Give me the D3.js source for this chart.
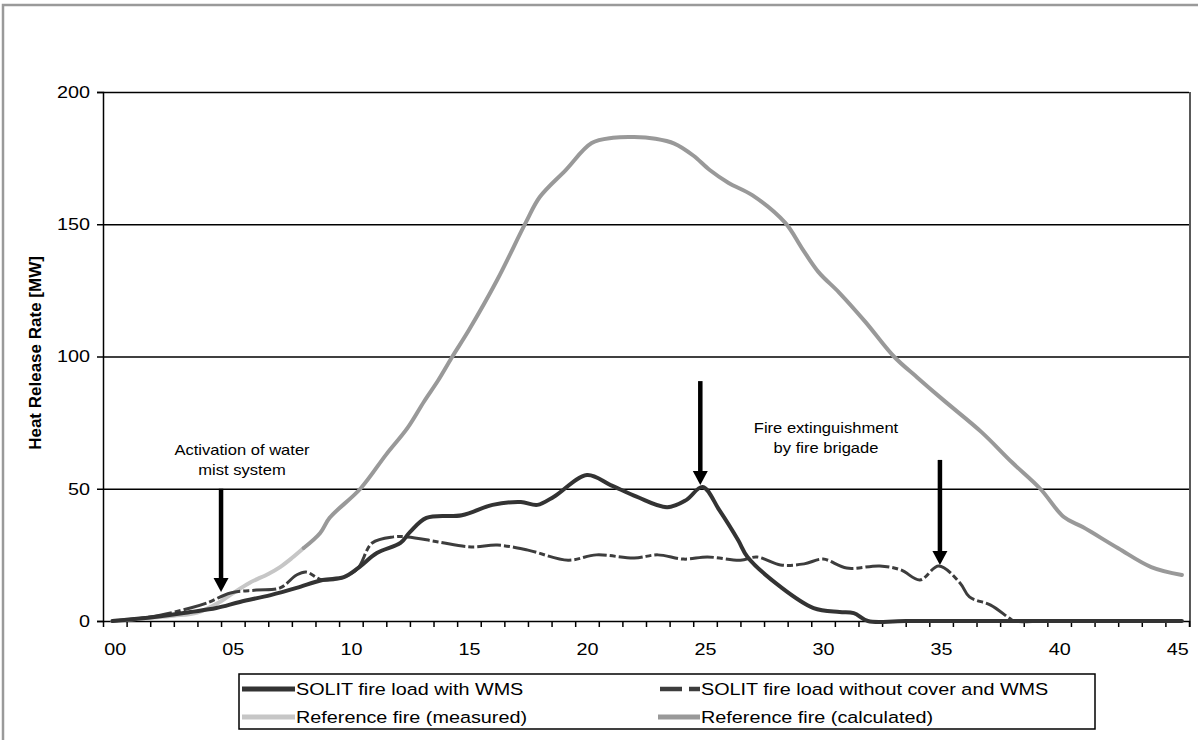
<!DOCTYPE html>
<html>
<head>
<meta charset="utf-8">
<script src="https://cdn.jsdelivr.net/npm/d3@7"></script>
<style>
  html, body { margin: 0; padding: 0; background: #fff; }
  svg { display: block; }
</style>
</head>
<body>
<svg id="chart" width="1198" height="740"></svg>
<script>
// ---- data (time in minutes, heat release rate in MW) ----
const xTickLabels = ["00","05","10","15","20","25","30","35","40","45"];
const yTicks = [0, 50, 100, 150, 200];

const wmsT = [0.4, 2, 3.7, 4.8, 5.8, 7.1, 8.2, 9.3, 10.2, 10.8, 11.6, 12.6, 13, 13.7, 15.2, 16.5, 17.7, 18.4, 19.1, 20.5, 21.5, 22.6, 23.9, 24.7, 25.4, 26.1, 26.9, 27.3, 28.7, 30.1, 31.2, 31.8, 32.4, 34, 45.7];
const wmsV = [0, 1.3, 3.4, 4.9, 7.2, 9.8, 12.5, 15.5, 16.6, 20, 25.7, 29.5, 33.6, 39, 40, 43.9, 45, 43.9, 47, 55.2, 51.4, 47, 43, 45.7, 50.7, 42, 30.6, 24.2, 12.9, 4.9, 3.4, 3, 0, 0, 0];

const noCoverT = [0.4, 2, 3.7, 4.4, 5.4, 6.5, 7.5, 8.2, 8.6, 9.3, 10.2, 10.8, 11.4, 12.3, 12.9, 14.2, 15.6, 16.7, 18, 19.7, 20.9, 22.5, 23.5, 24.6, 25.6, 27, 27.7, 28.7, 29.7, 30.5, 31.5, 32.9, 33.8, 34.6, 35.4, 36.3, 36.7, 37.6, 38.4, 38.6, 40, 45.7];
const noCoverV = [0, 1.5, 4.9, 6.8, 10.6, 11.7, 12.5, 17.4, 18.5, 15.5, 16.6, 20, 29.5, 31.8, 31.8, 29.9, 28, 28.7, 26.8, 23, 25, 23.8, 25, 23.4, 24.2, 23, 24.2, 21.2, 21.6, 23.4, 20, 20.8, 19.3, 15.5, 20.8, 14.4, 9.1, 6, 1, 0, 0, 0];

const measuredT = [0.4, 2, 3, 4, 5, 5.5, 6.2, 7, 7.5, 8, 8.5];
const measuredV = [0, 1.2, 2, 3.2, 7.5, 10.5, 14.4, 17.8, 20.4, 23.8, 27.6];

const calcT = [8.5, 9.2, 9.6, 10.9, 12, 12.9, 13.6, 14.2, 14.8, 15.5, 16.7, 17.9, 18.5, 19.6, 20.7, 21.6, 22.5, 23.4, 24.2, 25.0, 25.7, 26.5, 27.5, 28.9, 29.6, 30.3, 31.2, 32.3, 33.5, 34.5, 35.6, 37.2, 38.5, 39.7, 40.7, 41.5, 43, 44.4, 45.7];
const calcV = [27.6, 33.3, 39, 50, 63, 73, 83, 91, 100, 110, 129, 150.5, 160.3, 170.5, 180.7, 182.7, 183, 182.3, 180.5, 176, 170.5, 165.6, 161, 150.5, 141, 132, 124, 113, 100, 92, 83.5, 71.5, 60, 50, 39.3, 35.5, 27.5, 20.4, 17.4];

// annotation arrows: [time, from value, to value]
const arrowT = [5.0, 25.3, 35.45];
const arrowFrom = [50, 90.7, 60.9];
const arrowTo = [11, 51.4, 21.2];

const legendLabels = ["SOLIT fire load with WMS", "SOLIT fire load without cover and WMS", "Reference fire (measured)", "Reference fire (calculated)"];

// ---- chart ----
const svg = d3.select("#chart");
const L = 103, R = 1189, T = 92, B = 621;
const x = d3.scaleLinear().domain([0, 46]).range([L, R]);
const y = d3.scaleLinear().domain([0, 200]).range([B, T]);
const SX = 1.2; // horizontal stretch of the source lettering

// outer frame
svg.append("rect").attr("x", 3).attr("y", 5).attr("width", 1250).attr("height", 800)
  .attr("fill", "none").attr("stroke", "#9a9a9a").attr("stroke-width", 2.5);

// gridlines
svg.append("g").attr("transform", `translate(${L},0)`)
  .call(d3.axisLeft(y).tickValues([50, 100, 150, 200]).tickSize(-(R - L)).tickFormat(""))
  .call(g => g.select(".domain").remove())
  .call(g => g.selectAll("line").attr("stroke", "#000").attr("stroke-width", 1.3));

// right border
svg.append("line").attr("x1", R + 1).attr("x2", R + 1).attr("y1", T).attr("y2", B + 6)
  .attr("stroke", "#000").attr("stroke-width", 1.3);

const fontMain = "'Liberation Sans', Arial, sans-serif";

// y axis
const yAxis = svg.append("g").attr("transform", `translate(${L},0)`)
  .call(d3.axisLeft(y).tickValues(yTicks).tickSize(6).tickPadding(6));
yAxis.selectAll("line, path").attr("stroke", "#000").attr("stroke-width", 1.5);
yAxis.selectAll("text").attr("font-family", fontMain).attr("font-size", 16.5).attr("fill", "#000")
  .attr("x", null).attr("transform", `translate(-13,0) scale(${SX},1)`);

// x axis ticks
const xAxis = svg.append("g").attr("transform", `translate(0,${B})`)
  .call(d3.axisBottom(x).tickValues(d3.range(0, 47)).tickSize(6).tickFormat(""));
xAxis.selectAll("line, path").attr("stroke", "#000").attr("stroke-width", 1.5);
xAxis.select(".domain").attr("d", `M${L},0.5H${R + 1}`);

// x labels centered in each category
const xLab = svg.append("g").attr("transform", `translate(0,${B})`)
  .call(d3.axisBottom(x).tickValues(xTickLabels.map(d => +d + 0.5)).tickSize(0).tickPadding(22)
    .tickFormat((d, i) => xTickLabels[i]));
xLab.select(".domain").remove();
xLab.selectAll("text").attr("font-family", fontMain).attr("font-size", 16.5).attr("fill", "#000")
  .attr("transform", `scale(${SX},1)`).attr("x", 0);

// y title
svg.append("text").attr("transform", "translate(41,353) rotate(-90)")
  .attr("text-anchor", "middle").attr("font-family", fontMain).attr("font-weight", "bold")
  .attr("font-size", 17).text("Heat Release Rate [MW]");

// series
const line = d3.line().x(d => x(d[0])).y(d => y(d[1])).curve(d3.curveCatmullRom.alpha(0.5));
const zip = (a, b) => a.map((t, i) => [t, b[i]]);

svg.append("path").datum(zip(measuredT, measuredV)).attr("d", line)
  .attr("fill", "none").attr("stroke", "#c6c6c6").attr("stroke-width", 4).attr("stroke-linecap", "round");
svg.append("path").datum(zip(calcT, calcV)).attr("d", line)
  .attr("fill", "none").attr("stroke", "#999").attr("stroke-width", 4).attr("stroke-linecap", "round");
svg.append("path").datum(zip(noCoverT, noCoverV)).attr("d", line)
  .attr("fill", "none").attr("stroke", "#3d3d3d").attr("stroke-width", 3).attr("stroke-dasharray", "24,3,6,3");
svg.append("path").datum(zip(wmsT, wmsV)).attr("d", line)
  .attr("fill", "none").attr("stroke", "#333").attr("stroke-width", 4).attr("stroke-linecap", "round");

// arrows
arrowT.forEach((t, i) => {
  const ax = x(t), y0 = y(arrowFrom[i]), y1 = y(arrowTo[i]);
  svg.append("line").attr("x1", ax).attr("x2", ax).attr("y1", y0).attr("y2", y1 - 12)
    .attr("stroke", "#000").attr("stroke-width", 4.5);
  svg.append("path").attr("d", `M${ax - 7.5},${y1 - 14}L${ax + 7.5},${y1 - 14}L${ax},${y1}Z`).attr("fill", "#000");
});

// annotation text
const note = (cx, lines, y0) => {
  lines.forEach((s, i) => svg.append("text")
    .attr("transform", `translate(${cx},${y0 + i * 20}) scale(${SX},1)`)
    .attr("text-anchor", "middle").attr("font-family", fontMain).attr("font-size", 13.8)
    .attr("fill", "#000").text(s));
};
note(242, ["Activation of water", "mist system"], 455);
note(826, ["Fire extinguishment", "by fire brigade"], 433);

// legend
const lg = svg.append("g");
lg.append("rect").attr("x", 239).attr("y", 674).attr("width", 856).attr("height", 55)
  .attr("fill", "#fff").attr("stroke", "#000").attr("stroke-width", 1.5);
const legendItems = [
  { x1: 242, x2: 295, y: 689, stroke: "#333", dash: null, w: 5 },
  { x1: 660, x2: 700, y: 689, stroke: "#3d3d3d", dash: "22,7,11,0", w: 4.5 },
  { x1: 242, x2: 295, y: 717, stroke: "#c6c6c6", dash: null, w: 5 },
  { x1: 658, x2: 700, y: 717, stroke: "#999", dash: null, w: 5 }
];
legendItems.forEach((it, i) => {
  const l = lg.append("line").attr("x1", it.x1).attr("x2", it.x2).attr("y1", it.y).attr("y2", it.y)
    .attr("stroke", it.stroke).attr("stroke-width", it.w);
  if (it.dash) l.attr("stroke-dasharray", it.dash);
  lg.append("text").attr("transform", `translate(${it.x2 + 1},${it.y + 6}) scale(${SX},1)`)
    .attr("font-family", fontMain).attr("font-size", 16.5).attr("fill", "#000").text(legendLabels[i]);
});
</script>
</body>
</html>
